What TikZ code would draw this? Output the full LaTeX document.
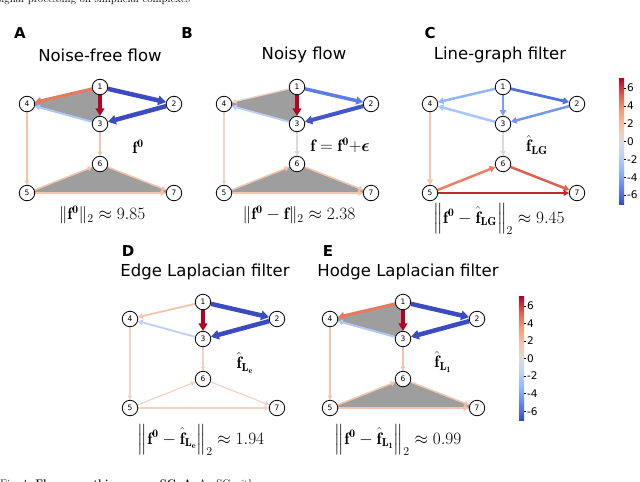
\documentclass[tikz,border=0pt]{standalone}
\usepackage{amsmath,bm}
\usepackage{fontspec}
\setsansfont{DejaVu Sans}
\usetikzlibrary{arrows.meta,backgrounds}
\definecolor{trigray}{HTML}{9E9E9E}
\definecolor{cred}{HTML}{B40426}
\definecolor{cblue}{HTML}{3B4CC0}
\definecolor{cblueb}{HTML}{4257C9}
\definecolor{cbmid}{HTML}{5D7CE6}
\definecolor{csalm}{HTML}{E8795E}
\definecolor{clbl}{HTML}{AFC8FB}
\definecolor{clblb}{HTML}{BCD0F5}
\definecolor{clpk}{HTML}{F3C4AE}
\definecolor{cvlpk}{HTML}{F1D3C6}
\definecolor{cgry}{HTML}{DBDBDB}
\definecolor{cca}{HTML}{93B5FE}
\definecolor{ccb}{HTML}{5470DE}
\definecolor{ccc}{HTML}{7B9FF9}
\definecolor{ccd}{HTML}{7396F5}
\definecolor{cce}{HTML}{A9C6FD}
\definecolor{ccf}{HTML}{F5C4AC}
\definecolor{ccg}{HTML}{EC7F63}
\definecolor{cch}{HTML}{DE614D}
\definecolor{cci}{HTML}{C0282F}
\definecolor{cw0}{HTML}{3A4CC0}
\definecolor{cw1}{HTML}{6282EA}
\definecolor{cw2}{HTML}{8DB0FE}
\definecolor{cw3}{HTML}{B8CFF9}
\definecolor{cw4}{HTML}{DDDDDD}
\definecolor{cw5}{HTML}{F5C2AA}
\definecolor{cw6}{HTML}{F49A7A}
\definecolor{cw7}{HTML}{DD604D}
\definecolor{cw8}{HTML}{B40426}
\tikzset{
 vx/.style={circle, draw, fill=white, inner sep=0pt, minimum size=15.5pt, line width=0.8pt, font=\sffamily\fontsize{7.5}{8}\selectfont},
 ed/.style 2 args={draw=#1, line width=#2, -{Triangle[length=3pt 1.1, width=3pt 1.4]}},
 tri/.style={fill=trigray},
 ttl/.style={font=\sffamily\fontsize{16.5}{19}\selectfont, inner sep=0pt},
 plbl/.style={font=\sffamily\bfseries\fontsize{15}{18}\selectfont, inner sep=0pt},
 mth/.style={font=\fontsize{16.5}{19}\selectfont, inner sep=0pt},
 cbtick/.style={font=\sffamily\fontsize{10.5}{12}\selectfont, anchor=west, inner sep=0pt},
}
\newcommand\mkpanel[3]{%
 \node[vx] (#1-1) at (#2,#3) {1};
 \node[vx] (#1-2) at ({#2+74},{#3+17}) {2};
 \node[vx] (#1-3) at (#2,{#3+37}) {3};
 \node[vx] (#1-4) at ({#2-73},{#3+17}) {4};
 \node[vx] (#1-6) at (#2,{#3+77}) {6};
 \node[vx] (#1-5) at ({#2-73},{#3+106}) {5};
 \node[vx] (#1-7) at ({#2+74},{#3+106}) {7};
}
\newcommand\mktris[1]{%
 \fill[tri] (#1-1.center) -- (#1-3.center) -- (#1-4.center) -- cycle;
 \fill[tri] (#1-5.center) -- (#1-6.center) -- (#1-7.center) -- cycle;
}
\newcommand\cbar[3]{%
 \foreach \i/\ca/\cb in {0/cw8/cw7,1/cw7/cw6,2/cw6/cw5,3/cw5/cw4,4/cw4/cw3,5/cw3/cw2,6/cw2/cw1,7/cw1/cw0}{
  \shade[top color=\ca, bottom color=\cb] (#1,{#2+(#3-#2)*\i/8-0.3}) rectangle ({#1+5},{#2+(#3-#2)*(\i+1)/8+0.3});
 }
 \foreach \v/\t in {6/6,4/4,2/2,0/0,-2/-2,-4/-4,-6/-6}{
  \draw[line width=0.5pt] ({#1+5},{(#2+#3)/2-\v*(#3-#2)/14}) -- ({#1+7},{(#2+#3)/2-\v*(#3-#2)/14});
  \node[cbtick] at ({#1+8},{(#2+#3)/2-\v*(#3-#2)/14}) {\t};
 }
}
\begin{document}
\begin{tikzpicture}[x=1pt,y=-1pt]
\useasboundingbox (0,0) rectangle (640,482);
\begin{scope}
\clip (0,0) rectangle (640,482);
\node[anchor=base west, inner sep=0pt, font=\fontsize{11}{12}\selectfont] (hdr) at (-3,2) {signal processing on simplicial complexes};
\node[anchor=base west, inner sep=0pt, font=\fontsize{11}{13}\selectfont] (cap) at (0,487.5) {Fig.~4. \textbf{Flow smoothing on an SC.} \textbf{A}: An SC with};
\end{scope}
% panel letters and titles
\node[plbl] (LA) at (20,33) {A};
\node[plbl] (LB) at (187,33) {B};
\node[plbl] (LC) at (430,33) {C};
\node[plbl] (LD) at (128,251) {D};
\node[plbl] (LE) at (328,251) {E};
\node[ttl] (TA) at (100,55) {Noise-free flow};
\node[ttl] (TB) at (304,55) {Noisy flow};
\node[ttl] (TC) at (500,55) {Line-graph filter};
\node[ttl] (TD) at (205,272) {Edge Laplacian filter};
\node[ttl] (TE) at (408,272) {Hodge Laplacian filter};
% graphs
\mkpanel{A}{100}{87}
\mkpanel{B}{297}{87}
\mkpanel{C}{503}{87}
\mkpanel{D}{203}{302}
\mkpanel{E}{403}{302}
\begin{pgfonlayer}{background}
\mktris{A}
\mktris{B}
\mktris{E}
\foreach \a/\b/\c/\w in {1/2/cblue/4.5, 2/3/cblue/4.5, 1/3/cred/4, 1/4/csalm/3, 3/4/clbl/2, 3/6/clpk/1.2, 4/5/clpk/1.2, 5/6/clpk/1.5, 6/7/clpk/1.5, 5/7/clpk/2}
  \draw[ed={\c}{\w pt}] (A-\a) -- (A-\b);
\foreach \a/\b/\c/\w in {1/2/cbmid/3.5, 2/3/cblueb/4, 1/3/cred/4, 1/4/cvlpk/1.3, 3/4/clblb/1.8, 3/6/cgry/1.5, 4/5/cvlpk/1.2, 5/6/clpk/1.5, 6/7/clpk/1.5, 5/7/clpk/1.8}
  \draw[ed={\c}{\w pt}] (B-\a) -- (B-\b);
\foreach \a/\b/\c/\w in {1/4/cca/2.5, 1/2/ccb/2.8, 1/3/ccc/2.5, 2/3/ccd/2.5, 3/4/cce/2.5, 3/6/cgry/2, 4/5/ccf/2.2, 5/6/ccg/2.5, 6/7/cch/2.5, 5/7/cci/2}
  \draw[ed={\c}{\w pt}] (C-\a) -- (C-\b);
\foreach \a/\b/\c/\w in {1/2/cblue/4.5, 2/3/cblue/4.5, 1/3/cred/4, 1/4/ccf/1.8, 3/4/clblb/1.8, 3/6/cvlpk/1.2, 4/5/cvlpk/1.2, 5/6/cvlpk/1.2, 6/7/cvlpk/1.2, 5/7/cvlpk/1.2}
  \draw[ed={\c}{\w pt}] (D-\a) -- (D-\b);
\foreach \a/\b/\c/\w in {1/2/cblue/4.5, 2/3/cblue/4.5, 1/3/cred/4, 1/4/csalm/3, 3/4/clbl/2, 3/6/clpk/1.2, 4/5/clpk/1.2, 5/6/clpk/1.5, 6/7/clpk/1.5, 5/7/clpk/2}
  \draw[ed={\c}{\w pt}] (E-\a) -- (E-\b);
\end{pgfonlayer}
% signal labels
\node[mth] (fA) at (138,147) {$\mathbf{f^0}$};
\node[mth] (fB) at (340,145) {$\mathbf{f}=\mathbf{f^0}{+}\bm{\epsilon}$};
\node[mth] (fC) at (537,145) {$\hat{\mathbf{f}}_{\mathbf{LG}}$};
\node[mth] (fD) at (245,363) {$\hat{\mathbf{f}}_{\mathbf{L_e}}$};
\node[mth] (fE) at (443,362) {$\hat{\mathbf{f}}_{\mathbf{L_1}}$};
% norms
\node[mth] (nA) at (102,215) {$\|\mathbf{f^0}\|_2 \approx 9.85$};
\node[mth] (nB) at (299,215) {$\|\mathbf{f^0}-\mathbf{f}\|_2 \approx 2.38$};
\node[mth] (nC) at (499,219) {$\left\|\mathbf{f^0}-\hat{\mathbf{f}}_{\mathbf{LG}}\right\|_2 \approx 9.45$};
\node[mth] (nD) at (201,440) {$\left\|\mathbf{f^0}-\hat{\mathbf{f}}_{\mathbf{L_e}}\right\|_2 \approx 1.94$};
\node[mth] (nE) at (398,440) {$\left\|\mathbf{f^0}-\hat{\mathbf{f}}_{\mathbf{L_1}}\right\|_2 \approx 0.99$};
% colorbars
\cbar{619}{79}{204}
\cbar{519}{297}{420}
\end{tikzpicture}
\end{document}
